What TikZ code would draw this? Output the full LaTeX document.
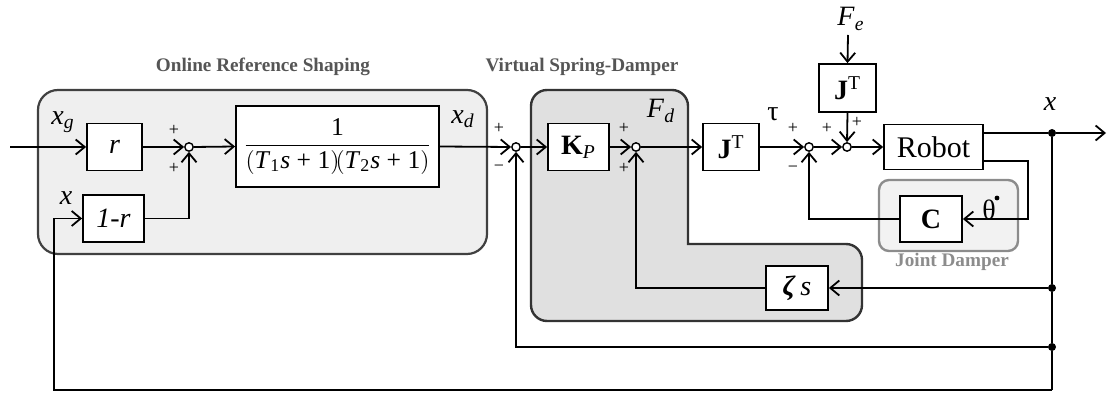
\documentclass[tikz,border=0pt]{standalone}
\usepackage{fontspec}
\setmainfont{Liberation Serif}
\usetikzlibrary{arrows.meta,calc}
\definecolor{regfill}{HTML}{EFEFEF}
\definecolor{sdfill}{HTML}{E0E0E0}
\definecolor{jdfill}{HTML}{F2F2F2}
\definecolor{titlegray}{HTML}{555555}
\definecolor{jdgray}{HTML}{8C8C8C}
\tikzset{
  blk/.style={draw, line width=0.9pt, fill=white, rectangle, inner sep=0pt,
              font=\fontsize{14}{16}\selectfont},
  sumj/.style={draw, circle, fill=white, line width=0.7pt, minimum size=4.2pt, inner sep=0pt},
  sig/.style={line width=0.9pt, -{Straight Barb[length=4.5pt,width=7.5pt]}},
  wire/.style={line width=0.9pt},
  lab/.style={inner sep=0pt, font=\fontsize{14}{16}\selectfont},
  sgn/.style={inner sep=0pt, font=\fontsize{9}{10}\selectfont},
  ttl/.style={inner sep=0pt, text=titlegray, font=\fontsize{9.6}{11}\selectfont\bfseries},
  jnt/.style={fill, circle, minimum size=4pt, inner sep=0pt},
}
\begin{document}
\begin{tikzpicture}[x=0.5pt, y=-0.5pt]
\useasboundingbox (0,0) rectangle (1107,394);

% grouping regions
\draw[line width=1.1pt, draw=black!75, fill=regfill, rounded corners=10pt]
  (38,90) rectangle (487,254);
\draw[line width=1.2pt, draw=black!80, fill=sdfill]
  (688,170) [rounded corners=8pt] -- (688,90) -- (531,90) -- (531,321) -- (862,321) -- (862,244)
  [sharp corners] -- (688,244) -- cycle;
\draw[line width=1.2pt, draw=jdgray, fill=jdfill, rounded corners=5pt]
  (879,180) rectangle (1018,251);

% titles
\node[ttl] (t1) at (263,67) {Online Reference Shaping};
\node[ttl] (t2) at (582,67) {Virtual Spring-Damper};
\node[ttl, text=jdgray] (t3) at (952,262) {Joint Damper};

% blocks
\node[blk, minimum width=27.5pt, minimum height=23.5pt] (r) at (114.5,147) {\textit{r}};
\node[blk, minimum width=30.5pt, minimum height=23.5pt] (omr) at (113.5,218.5) {\textit{1-r}};
\node[blk, minimum width=101.5pt, minimum height=40.5pt, font=\fontsize{12.8}{14}\selectfont] (frac) at (337.5,146.5)
  {$\displaystyle\frac{\mbox{1}}{\bigl(\mbox{\textit{T}\textsubscript{1}\textit{s} + 1}\bigr)\!\bigl(\mbox{\textit{T}\textsubscript{2}\textit{s} + 1}\bigr)}$};
\node[blk, minimum width=30.5pt, minimum height=23.5pt] (kp) at (578.5,147) {\textbf{K}\textsubscript{\textit{P}}};
\node[blk, minimum width=28pt, minimum height=23.5pt] (jt1) at (731,147) {\textbf{J}\textsuperscript{T}};
\node[blk, minimum width=28.5pt, minimum height=24pt] (jt2) at (847.5,88) {\textbf{J}\textsuperscript{T}};
\node[blk, minimum width=49.5pt, minimum height=22.5pt, font=\fontsize{15}{17}\selectfont] (robot) at (933.5,147) {Robot};
\node[blk, minimum width=31pt, minimum height=23pt] (cb) at (931,219) {\textbf{C}};
\node[blk, minimum width=31pt, minimum height=22pt] (zs) at (797,288) {\textbf{\textit{ζ}}\,\textit{s}};

% summing junctions
\node[sumj] (s1) at (189,147) {};
\node[sumj] (s2) at (516,147) {};
\node[sumj] (s3) at (636,147) {};
\node[sumj] (s4) at (809,147) {};
\node[sumj] (s5) at (847,147) {};

% branch points and free ends
\coordinate (in) at (10,147);
\coordinate (fe) at (848,35);
\coordinate (out) at (1106,133);
\coordinate (ro1) at (983,133);
\coordinate (ro2) at (983,161);
\coordinate (bend) at (1028,161);
\coordinate (low) at (1052,390);
\coordinate (lowl) at (54,390);
\node[jnt] (d1) at (1052,133) {};
\node[jnt] (d2) at (1052,288) {};
\node[jnt] (d3) at (1052,347) {};

% forward path
\draw[sig] (in) -- (r.west);
\draw[sig] (r.east) -- (s1.west);
\draw[sig] (omr.east) -| (s1.south);
\draw[sig] (s1.east) -- (frac.west);
\draw[sig] (frac.east) -- (s2.west);
\draw[sig] (s2.east) -- (kp.west);
\draw[sig] (kp.east) -- (s3.west);
\draw[sig] (s3.east) -- (jt1.west);
\draw[sig] (jt1.east) -- (s4.west);
\draw[sig] (s4.east) -- (s5.west);
\draw[sig] (s5.east) -- (robot.west);
\draw[sig] (fe) -- (jt2.north);
\draw[sig] (jt2.south) -- (s5.north);
\draw[wire] (ro1) -- (d1);
\draw[sig] (d1) -- (out);

% joint damping loop
\draw[sig] (ro2) -- (bend) |- (cb.east);
\draw[sig] (cb.west) -| (s4.south);

% feedback of x
\draw[wire] (d1) -- (d2) -- (d3) -- (low);
\draw[sig] (d2) -- (zs.east);
\draw[sig] (zs.west) -| (s3.south);
\draw[sig] (d3) -| (s2.south);
\draw[sig] (low) -- (lowl) |- (omr.west);

% signal labels
\node[lab] (lxg) at (63,122) {\textit{x}\textsubscript{\textit{g}}};
\node[lab] (lx1) at (66,198) {\textit{x}};
\node[lab] (lxd) at (463,119) {\textit{x}\textsubscript{\textit{d}}};
\node[lab] (lfd) at (661,111) {\textit{F}\textsubscript{\textit{d}}};
\node[lab] (ltau) at (773,114) {τ};
\node[lab] (lfe) at (851,19) {\textit{F}\textsubscript{\textit{e}}};
\node[lab] (lx2) at (1050,104) {\textit{x}};
\node[lab] (lth) at (989,210) {θ};
\fill (997,198) circle (1.2pt);

% signs
\node[sgn] (p1a) at (174,130) {+};
\node[sgn] (p1b) at (174,168) {+};
\node[sgn] (p2a) at (499,128) {+};
\node[sgn] (p2b) at (499,168) {−};
\node[sgn] (p3a) at (624,128) {+};
\node[sgn] (p3b) at (624,168) {+};
\node[sgn] (p4a) at (793,128) {+};
\node[sgn] (p4b) at (793,169) {−};
\node[sgn] (p5a) at (827,128) {+};
\node[sgn] (p5b) at (857,122) {+};
\end{tikzpicture}
\end{document}
